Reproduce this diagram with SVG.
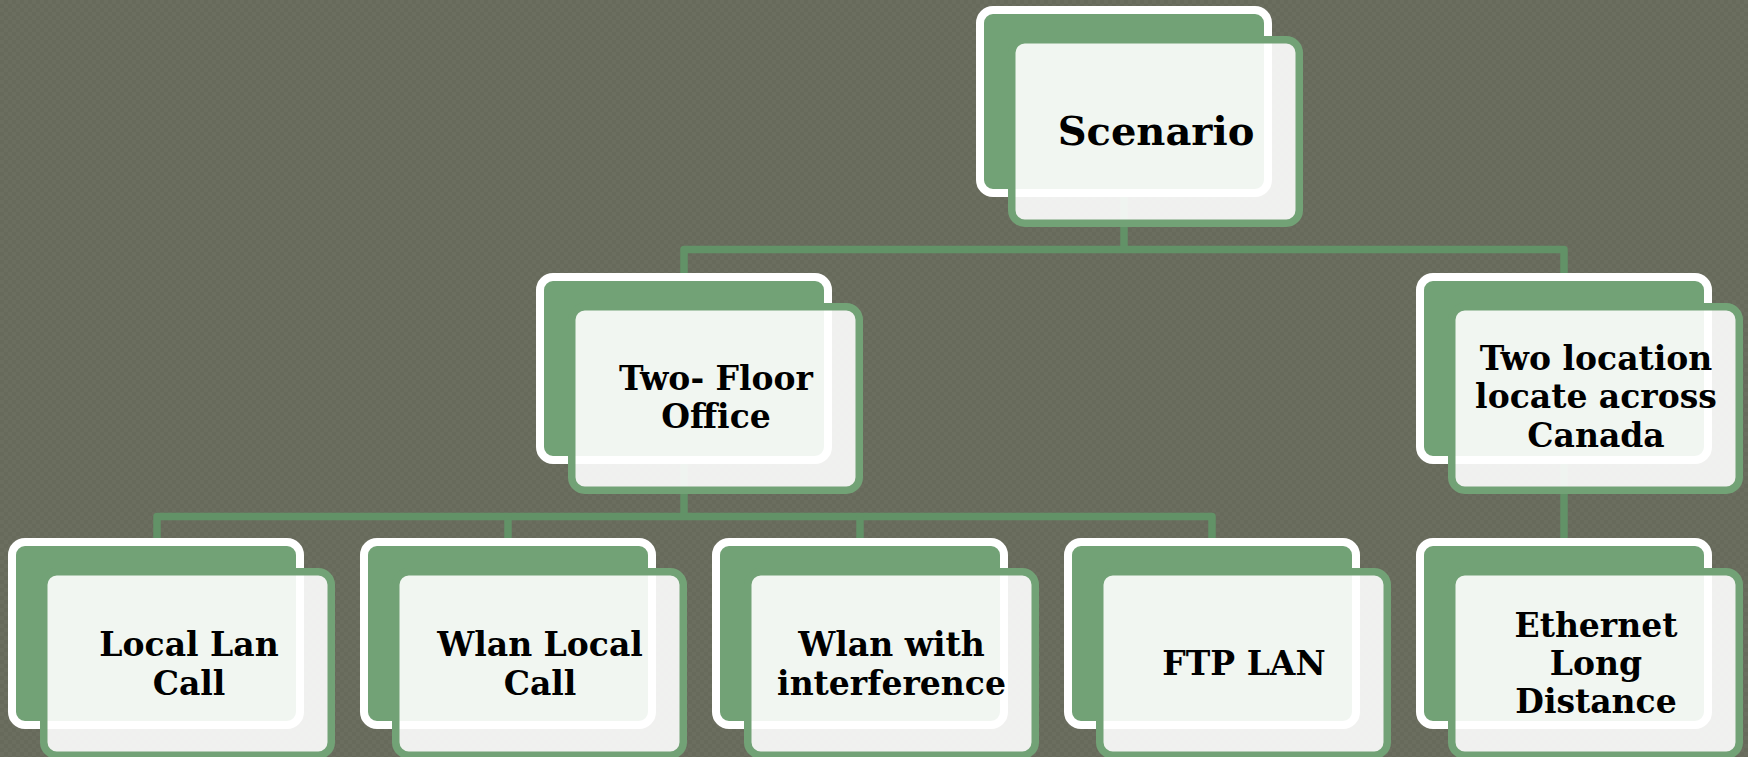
<svg xmlns="http://www.w3.org/2000/svg" width="1748" height="757" viewBox="0 0 1748 757">
<defs>
<pattern id="bgp" width="8" height="8" patternUnits="userSpaceOnUse">
<rect width="8" height="8" fill="#676a5b"/>
<rect width="4" height="4" fill="#6b6e5f"/>
<rect x="4" y="4" width="4" height="4" fill="#6b6e5f"/>
</pattern>
</defs>
<style>
.back{fill:#72a276;stroke:#ffffff;stroke-width:8}
.front{fill:#ffffff;fill-opacity:0.9;stroke:#72a276;stroke-width:7.5}
.lbl{font-family:"DejaVu Serif","Liberation Serif",serif;font-weight:bold;font-size:33px;fill:#000;text-anchor:middle}
.big{font-size:40px}
.con{fill:none;stroke:#629267;stroke-width:7.5;stroke-linejoin:round}
</style>
<rect width="1748" height="757" fill="url(#bgp)"/>
<g id="connectors">
<path class="con" d="M1124 100 V249.5"/>
<path class="con" d="M684 300 V249.5 H1564 V300"/>
<path class="con" d="M684 370 V516.5"/>
<path class="con" d="M157 560 V516.5 H1212 V560"/>
<path class="con" d="M508 516.5 V560"/>
<path class="con" d="M860 516.5 V560"/>
<path class="con" d="M1564 370 V560"/>
</g>
<g id="node-scenario">
<rect class="back" x="980" y="10" width="288" height="183" rx="13"/>
<rect class="front" x="1011.75" y="39.75" width="287.5" height="183.5" rx="13"/>
<text class="lbl big" x="1156" y="145">Scenario</text>
</g>
<g id="node-two-floor">
<rect class="back" x="540" y="277" width="288" height="183" rx="13"/>
<rect class="front" x="571.75" y="306.75" width="287.5" height="183.5" rx="13"/>
<text class="lbl" x="716" y="390">Two- Floor</text>
<text class="lbl" x="716" y="428">Office</text>
</g>
<g id="node-two-location">
<rect class="back" x="1420" y="277" width="288" height="183" rx="13"/>
<rect class="front" x="1451.75" y="306.75" width="287.5" height="183.5" rx="13"/>
<text class="lbl" x="1596" y="370">Two location</text>
<text class="lbl" x="1596" y="408">locate across</text>
<text class="lbl" x="1596" y="447">Canada</text>
</g>
<g id="node-local-lan">
<rect class="back" x="12" y="542" width="288" height="183" rx="13"/>
<rect class="front" x="43.75" y="571.75" width="287.5" height="183.5" rx="13"/>
<text class="lbl" x="189" y="656">Local Lan</text>
<text class="lbl" x="189" y="695">Call</text>
</g>
<g id="node-wlan-local">
<rect class="back" x="364" y="542" width="288" height="183" rx="13"/>
<rect class="front" x="395.75" y="571.75" width="287.5" height="183.5" rx="13"/>
<text class="lbl" x="540" y="656">Wlan Local</text>
<text class="lbl" x="540" y="695">Call</text>
</g>
<g id="node-wlan-interference">
<rect class="back" x="716" y="542" width="288" height="183" rx="13"/>
<rect class="front" x="747.75" y="571.75" width="287.5" height="183.5" rx="13"/>
<text class="lbl" x="891.5" y="656">Wlan with</text>
<text class="lbl" x="891.5" y="695">interference</text>
</g>
<g id="node-ftp-lan">
<rect class="back" x="1068" y="542" width="288" height="183" rx="13"/>
<rect class="front" x="1099.75" y="571.75" width="287.5" height="183.5" rx="13"/>
<text class="lbl" x="1244" y="675">FTP LAN</text>
</g>
<g id="node-ethernet">
<rect class="back" x="1420" y="542" width="288" height="183" rx="13"/>
<rect class="front" x="1451.75" y="571.75" width="287.5" height="183.5" rx="13"/>
<text class="lbl" x="1596" y="637">Ethernet</text>
<text class="lbl" x="1596" y="675">Long</text>
<text class="lbl" x="1596" y="713">Distance</text>
</g>
</svg>
